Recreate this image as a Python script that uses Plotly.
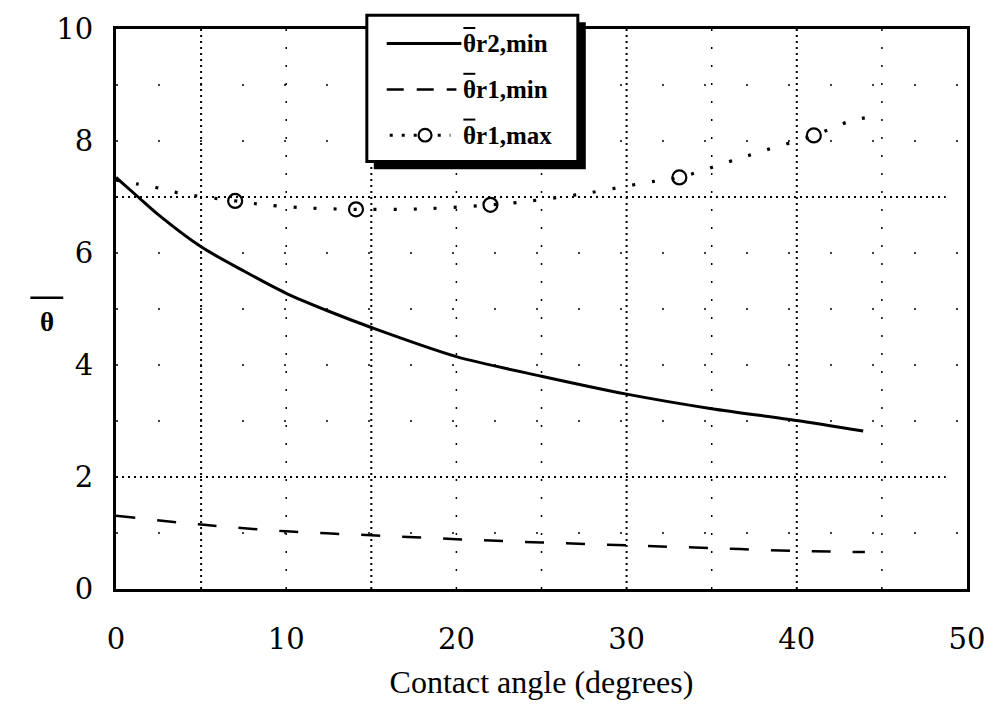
import plotly.graph_objects as go

# Contact angle (degrees) on the horizontal axis
angle_r2_min = [0, 1.3, 2.5, 5, 7.5, 10, 12.5, 15, 20, 25, 30, 35, 40, 43.9]
theta_r2_min = [7.35, 7.0, 6.68, 6.11, 5.68, 5.28, 4.96, 4.67, 4.15, 3.80, 3.48, 3.22, 3.01, 2.82]

angle_r1_min = [0, 5, 10, 15, 20, 25, 30, 35, 40, 44]
theta_r1_min = [1.31, 1.15, 1.03, 0.96, 0.89, 0.83, 0.78, 0.73, 0.68, 0.66]

angle_r1_max = [0, 1.3, 2.5, 3.7, 7.0, 8.5, 10.9, 14.1, 18.1, 22.0, 24.1, 27.7,
                31.2, 33.1, 36.0, 38.2, 41.0, 43.2, 44.8]
theta_r1_max = [7.3, 7.23, 7.16, 7.07, 6.93, 6.87, 6.81, 6.78, 6.79, 6.86, 6.92, 7.07,
                7.26, 7.35, 7.63, 7.84, 8.10, 8.36, 8.45]
marker_angles = [7.0, 14.1, 22.0, 33.1, 41.0]
marker_theta = [6.93, 6.78, 6.86, 7.35, 8.10]

x_ticks = [0, 10, 20, 30, 40, 50]
y_ticks = [0, 2, 4, 6, 8, 10]

# dotted reference grid: dense lines and faint partial ones
grid_x_dense = [5, 15, 30, 40]
grid_x_faint = [10, 20, 25, 35, 45]
grid_y_dense = [2, 7]
grid_y_faint = [1, 3, 4, 5, 6, 8, 9]

legend_labels = ["θr2,min", "θr1,min", "θr1,max"]

FONT = "Liberation Serif"
TICK_FONT = "DejaVu Serif"
W, H = 997, 706
ML, MR, MT, MB = 116, 26, 23, 108
PW, PH = W - ML - MR, H - MT - MB


def px(xp):
    return (xp - ML) / PW


def py(yp):
    return (H - MB - yp) / PH


fig = go.Figure()

fig.add_trace(go.Scatter(x=angle_r2_min, y=theta_r2_min, mode="lines",
                         line=dict(color="black", width=3, shape="spline", smoothing=0.8),
                         showlegend=False))
fig.add_trace(go.Scatter(x=angle_r1_min, y=theta_r1_min, mode="lines",
                         line=dict(color="black", width=2.5, dash="19px,22px", shape="spline"),
                         showlegend=False))
fig.add_trace(go.Scatter(x=angle_r1_max, y=theta_r1_max, mode="lines",
                         line=dict(color="black", width=3.2, dash="3px,17px", shape="spline"),
                         showlegend=False))
fig.add_trace(go.Scatter(x=marker_angles, y=marker_theta, mode="markers",
                         marker=dict(symbol="circle-open", size=14, color="black",
                                     line=dict(width=2.2, color="black")),
                         showlegend=False))

shapes = []
for gx in grid_x_dense:
    shapes.append(dict(type="line", xref="x", yref="paper", x0=gx, x1=gx, y0=0, y1=1,
                       line=dict(color="black", width=2, dash="2px,4px"), layer="below"))
for gx in grid_x_faint:
    shapes.append(dict(type="line", xref="x", yref="paper", x0=gx, x1=gx, y0=0, y1=1,
                       line=dict(color="black", width=1.5, dash="2px,16px"), layer="below"))
for gy in grid_y_dense:
    shapes.append(dict(type="line", xref="paper", yref="y", x0=0, x1=0.975, y0=gy, y1=gy,
                       line=dict(color="black", width=2, dash="2px,4px"), layer="below"))
for gy in grid_y_faint:
    shapes.append(dict(type="line", xref="paper", yref="y", x0=0, x1=1, y0=gy, y1=gy,
                       line=dict(color="black", width=1.5, dash="2px,40px"), layer="below"))

# legend box with a heavy drop shadow
shapes.append(dict(type="rect", xref="paper", yref="paper",
                   x0=px(375), x1=px(588), y0=py(167), y1=py(16),
                   fillcolor="black", line=dict(width=0), layer="above"))
shapes.append(dict(type="rect", xref="paper", yref="paper",
                   x0=px(368), x1=px(580), y0=py(159), y1=py(9),
                   fillcolor="white", line=dict(color="black", width=3), layer="above"))
# legend samples
shapes.append(dict(type="line", xref="paper", yref="paper", x0=px(388), x1=px(463),
                   y0=py(38), y1=py(38), line=dict(color="black", width=3), layer="above"))
shapes.append(dict(type="line", xref="paper", yref="paper", x0=px(388), x1=px(458),
                   y0=py(85), y1=py(85), line=dict(color="black", width=2.5, dash="17px,13px"),
                   layer="above"))
shapes.append(dict(type="line", xref="paper", yref="paper", x0=px(391), x1=px(452),
                   y0=py(132), y1=py(132), line=dict(color="black", width=3, dash="3px,9px"),
                   layer="above"))
shapes.append(dict(type="circle", xref="paper", yref="paper",
                   x0=px(420), x1=px(433), y0=py(138.5), y1=py(125.5),
                   fillcolor="white", line=dict(color="black", width=2.2), layer="above"))
# overbars on the theta symbols in the legend
for yb in [22, 69, 116]:
    shapes.append(dict(type="line", xref="paper", yref="paper", x0=px(465), x1=px(477),
                       y0=py(yb), y1=py(yb), line=dict(color="black", width=2), layer="above"))
# bar over the axis symbol
shapes.append(dict(type="line", xref="paper", yref="paper", x0=px(30), x1=px(63),
                   y0=py(299), y1=py(299), line=dict(color="black", width=2.5)))

annotations = []
for label, yp in zip(legend_labels, [38, 85, 132]):
    annotations.append(dict(text="<b>" + label + "</b>", xref="paper", yref="paper",
                            x=px(463), y=py(yp), xanchor="left", yanchor="middle",
                            showarrow=False, font=dict(family=FONT, size=25, color="black")))
annotations.append(dict(text="<b>θ</b>", xref="paper", yref="paper", x=px(47), y=py(324),
                        xanchor="center", yanchor="middle", showarrow=False,
                        font=dict(family=FONT, size=27, color="black")))

fig.update_layout(
    width=W, height=H,
    margin=dict(l=ML, r=MR, t=MT, b=MB),
    paper_bgcolor="white", plot_bgcolor="white",
    font=dict(family=FONT, color="black"),
    shapes=shapes, annotations=annotations,
    showlegend=False,
)
fig.update_xaxes(range=[0, 50], tickvals=x_ticks, ticktext=[str(v) for v in x_ticks],
                 showgrid=False, zeroline=False, showline=True, linecolor="black",
                 linewidth=3, mirror=True, ticks="", ticklabelstandoff=22,
                 tickfont=dict(family=TICK_FONT, size=29, color="black"),
                 title=dict(text="Contact angle (degrees)", standoff=16,
                            font=dict(family=FONT, size=32, color="black")))
fig.update_yaxes(range=[0, 10], tickvals=y_ticks, ticktext=[str(v) for v in y_ticks],
                 showgrid=False, zeroline=False, showline=True, linecolor="black",
                 linewidth=3, mirror=True, ticks="", ticklabelstandoff=14,
                 tickfont=dict(family=TICK_FONT, size=29, color="black"))

fig.write_html("out.html")
